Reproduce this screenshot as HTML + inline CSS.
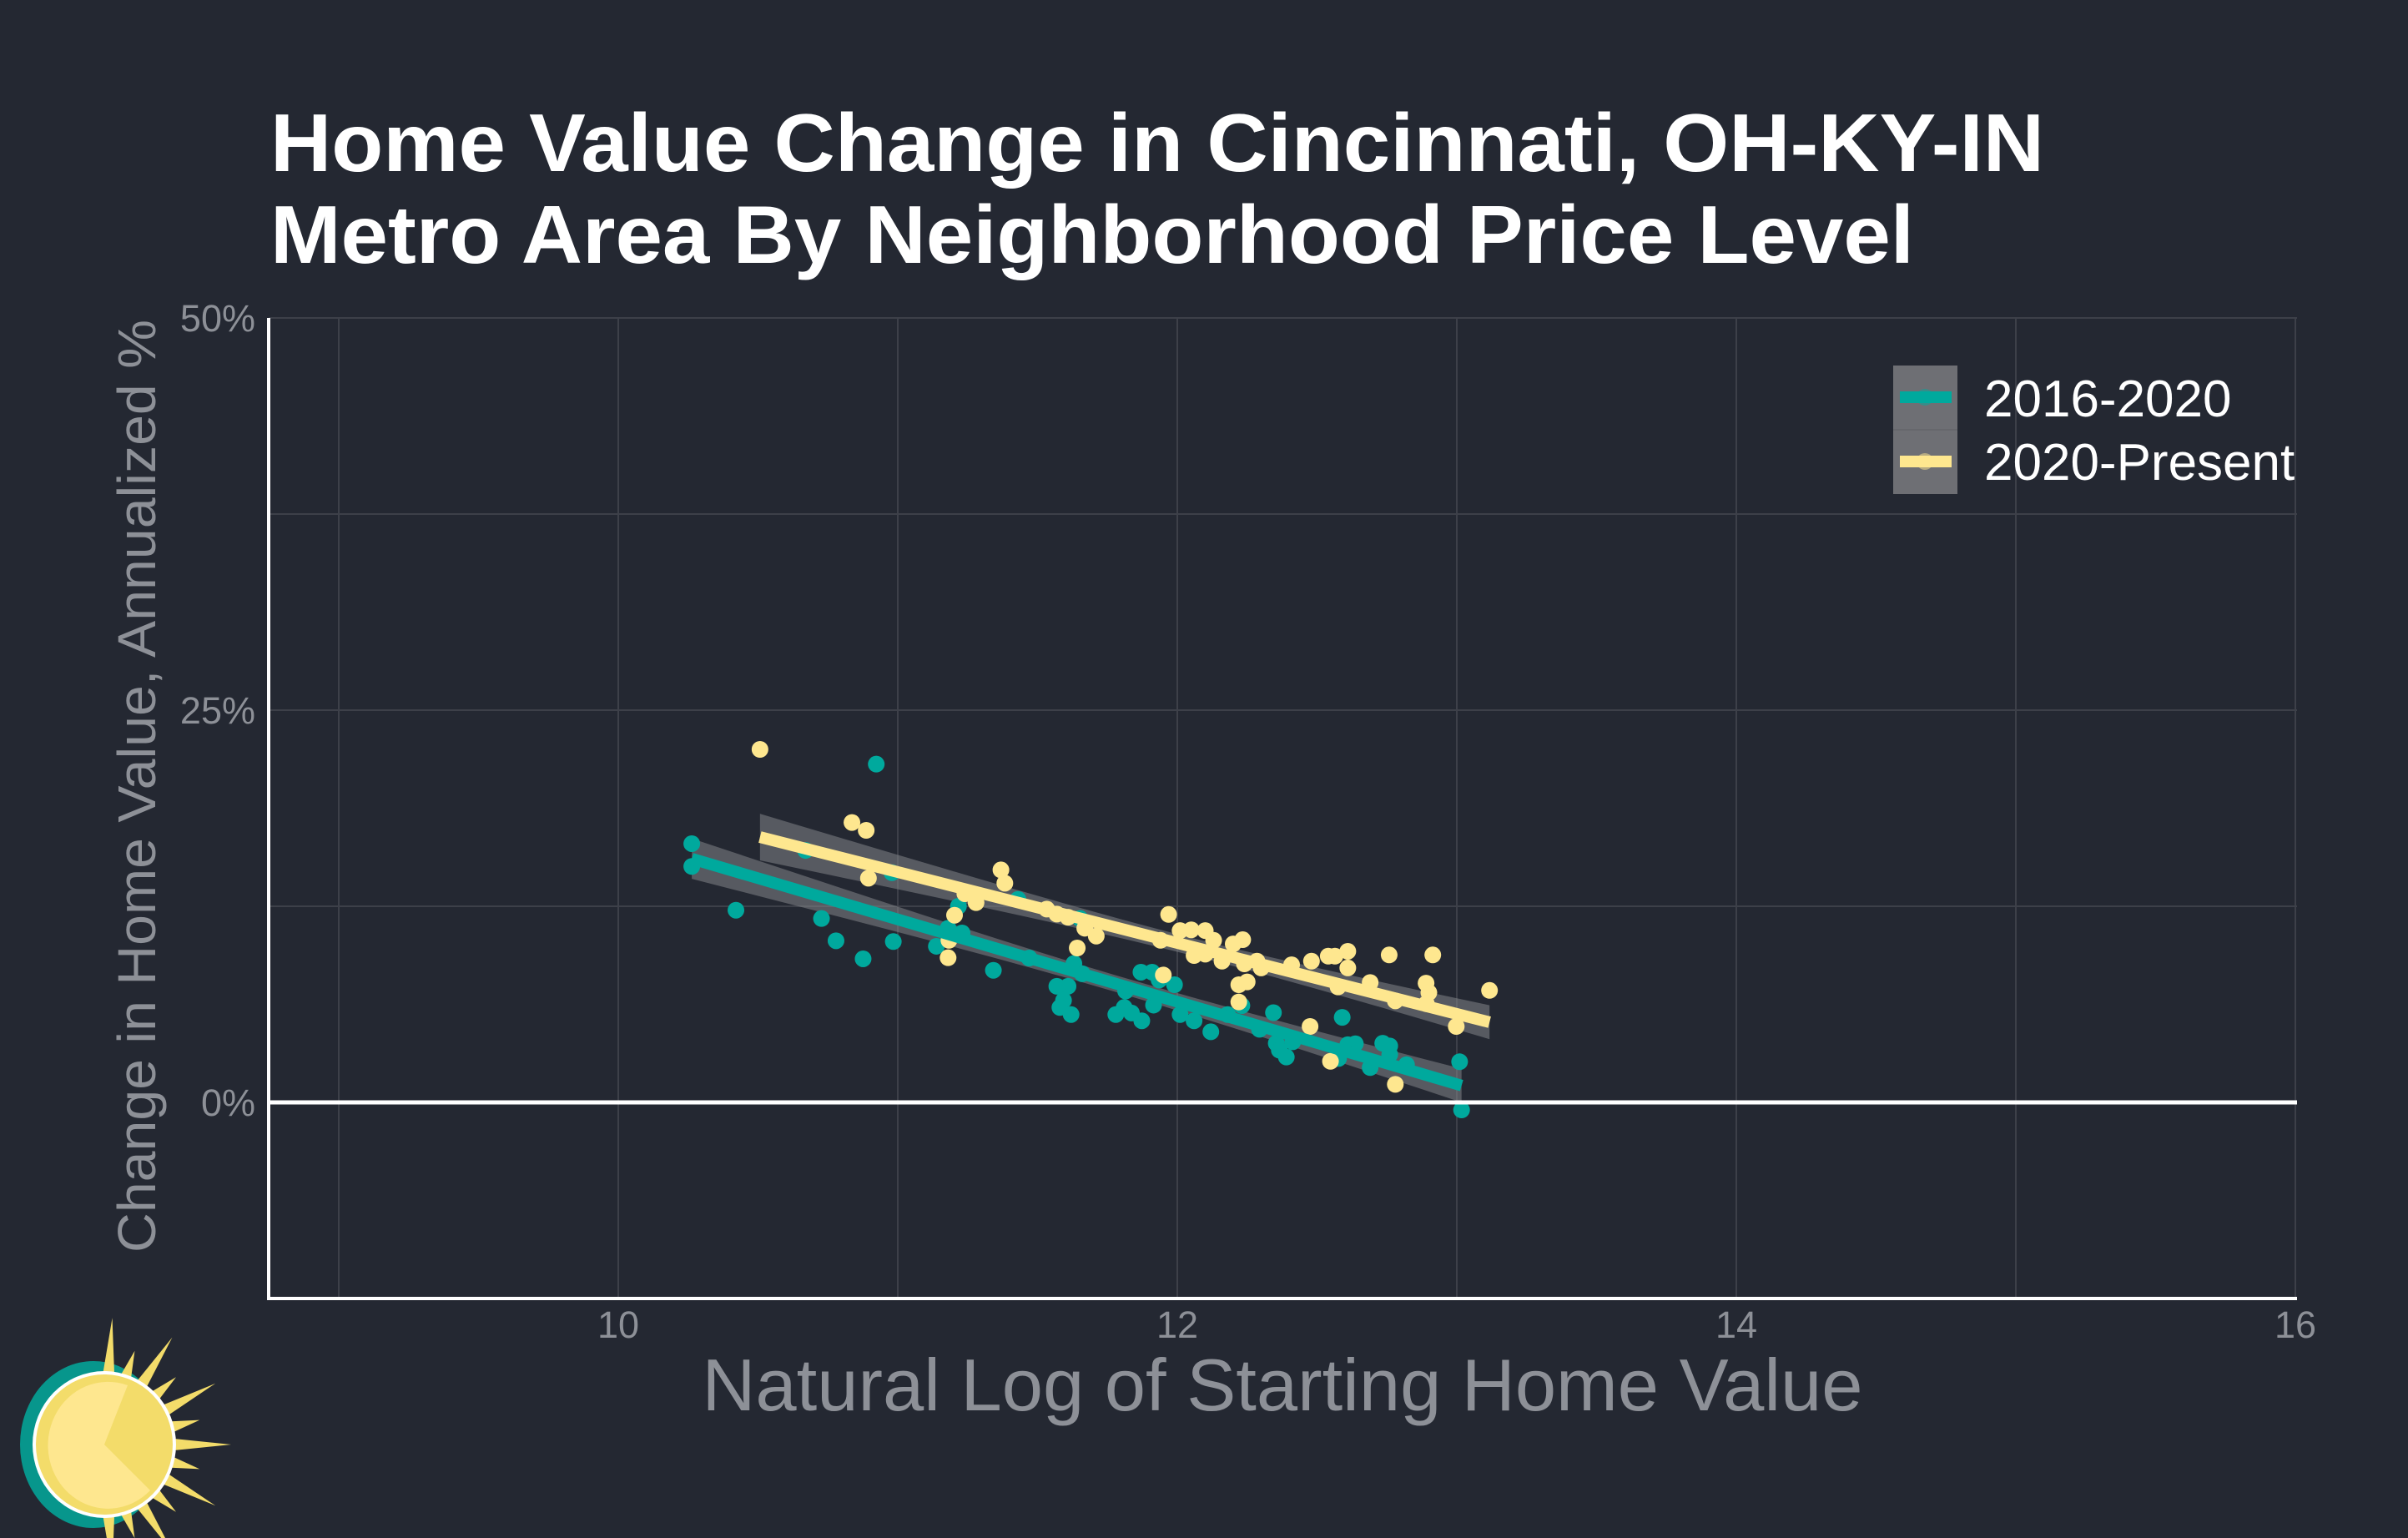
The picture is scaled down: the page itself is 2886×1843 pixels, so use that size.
<!DOCTYPE html>
<html><head><meta charset="utf-8"><style>
html,body{margin:0;padding:0;background:#242832;}
svg{display:block;font-family:"Liberation Sans",sans-serif;}
</style></head><body>
<svg id="chart" xmlns="http://www.w3.org/2000/svg" width="2886" height="1843" viewBox="0 0 2886 1843">
<rect width="2886" height="1843" fill="#242832"/>
<g fill="#ffffff" font-weight="bold" font-size="98">
<text x="324" y="205" textLength="2126" lengthAdjust="spacingAndGlyphs">Home Value Change in Cincinnati, OH-KY-IN</text>
<text x="324" y="315" textLength="1970" lengthAdjust="spacingAndGlyphs">Metro Area By Neighborhood Price Level</text>
</g>
<g id="grid"></g>
<g id="bands"></g>
<g id="points"></g>
<g id="lines"></g>
<g id="axes"></g>
<text x="186" y="942" transform="rotate(-90 186 942)" text-anchor="middle" font-size="64" fill="#8d9097" textLength="1118" lengthAdjust="spacingAndGlyphs">Change in Home Value, Annualized %</text>
<text x="1537" y="1690" text-anchor="middle" font-size="88" fill="#8d9097" textLength="1391" lengthAdjust="spacingAndGlyphs">Natural Log of Starting Home Value</text>
<g>
<rect x="2269" y="438" width="77" height="154" fill="#6e6f74"/>
<line x1="2269" y1="515" x2="2346" y2="515" stroke="#5e5f64" stroke-width="1"/>
<circle cx="2307" cy="476" r="10" fill="#00a99d" opacity="0.5"/>
<rect x="2277" y="469" width="62" height="14" fill="#00a99d"/>
<circle cx="2307" cy="553" r="10" fill="#fee78f" opacity="0.5"/>
<rect x="2277" y="546" width="62" height="14" fill="#fee78f"/>
<text x="2378" y="499" font-size="62" fill="#ffffff">2016-2020</text>
<text x="2378" y="575" font-size="62" fill="#ffffff">2020-Present</text>
</g>
<g id="sun">
<ellipse cx="112" cy="1731" rx="88" ry="100" fill="#07968c"/>
<g id="rays" fill="#f3dc6a"></g>
<ellipse cx="125" cy="1731" rx="86" ry="88" fill="#ffffff"/>
<ellipse cx="125" cy="1731" rx="82" ry="84" fill="#f3dc6a"/>
<path d="M125 1731 L153 1660 A72 76 0 1 0 180 1786 Z" fill="#fee78f"/>
</g>
</svg>
<script>
const xTicks = [10, 12, 14, 16];
const xGrid = [9, 10, 11, 12, 13, 14, 15, 16];
const yTicks = [0, 25, 50];
const yGrid = [-12.5, 0, 12.5, 25, 37.5, 50];
const tealX = [10.263,10.263,10.421,10.67,10.923,10.979,10.727,10.779,10.876,10.984,11.138,11.217,11.18,11.23,11.43,11.652,11.342,11.47,11.63,11.66,11.569,11.609,11.593,11.58,11.62,11.78,11.81,11.836,11.873,11.87,11.91,11.935,11.99,11.815,11.915,12.01,12.06,12.12,12.18,12.231,12.344,12.294,12.59,12.354,12.365,12.39,12.413,12.61,12.637,12.577,12.69,12.735,12.76,12.76,12.82,13.01,13.017];
const tealY = [16.49,15.04,12.25,16.06,21.56,14.64,11.72,10.3,9.15,10.25,9.95,12.5,11.1,10.8,12.94,11.72,8.42,9.2,8.85,8.2,7.4,7.4,6.5,6.05,5.6,5.6,6.05,5.7,5.2,8.3,8.3,7.8,7.5,7.1,6.2,5.6,5.2,4.5,5.6,6.17,5.72,4.66,5.42,3.77,3.33,2.89,3.86,3.68,3.74,2.8,2.22,3.77,3.6,3.05,2.4,2.59,-0.48];
const yellowX = [10.507,10.836,10.887,10.895,11.369,11.383,11.28,11.24,11.203,11.183,11.18,11.533,11.569,11.609,11.642,11.669,11.71,11.969,11.94,12.01,12.05,12.1,12.13,12.06,12.1,12.16,12.2,11.95,12.22,12.22,12.234,12.24,12.25,12.285,12.3,12.409,12.48,12.54,12.564,12.61,12.61,12.575,12.69,12.475,12.548,12.758,12.914,12.89,12.9,12.891,12.78,12.78,12.998,13.117];
const yellowY = [22.5,17.84,17.34,14.29,14.82,13.97,12.73,13.3,11.93,10.33,9.22,12.32,12.0,11.8,9.84,11.1,10.6,11.98,10.33,10.95,11.0,10.95,10.33,9.36,9.45,9.0,10.1,8.12,7.5,6.4,10.37,8.83,7.68,9.0,8.57,8.77,9.0,9.32,9.32,9.63,8.57,7.36,7.64,4.84,2.62,9.4,9.4,7.6,7.0,6.29,6.47,1.15,4.84,7.14];

const NS = "http://www.w3.org/2000/svg";
const L = 322, R = 2753, T = 381, B = 1556;
function xs(v){ return 741 + (v - 10) * 335; }
function ys(p){ return 1321 - p * 18.8; }
function mk(tag, attrs, parent){ const e = document.createElementNS(NS, tag); for (const k in attrs) e.setAttribute(k, attrs[k]); parent.appendChild(e); return e; }

const grid = document.getElementById('grid');
mk('rect', {x:L, y:T, width:R-L, height:B-T, fill:'#242832'}, grid);
xGrid.forEach(v => {
  const g = mk('line', {x1:xs(v), x2:xs(v), y1:T, y2:B, stroke:'#3d4049', 'stroke-width':2}, grid);
  
  
});
yGrid.forEach(p => {
  const g = mk('line', {x1:L, x2:R, y1:ys(p), y2:ys(p), stroke:'#3d4049', 'stroke-width':2}, grid);
  
  
});

const axes = document.getElementById('axes');
const zl = mk('line', {x1:L, x2:R, y1:ys(0), y2:ys(0), stroke:'#ffffff', 'stroke-width':5}, axes);


const ya = mk('line', {x1:L, x2:L, y1:T, y2:B+2, stroke:'#ffffff', 'stroke-width':4}, axes);


const xa = mk('line', {x1:L, x2:R, y1:B, y2:B, stroke:'#ffffff', 'stroke-width':4}, axes);


xTicks.forEach(v => {
  const t = mk('text', {x:xs(v), y:1603, 'text-anchor':'middle', 'font-size':45, fill:'#8d9097'}, axes);
  t.textContent = String(v);
  
  
});
yTicks.forEach(p => {
  const t = mk('text', {x:306, y:ys(p)+16, 'text-anchor':'end', 'font-size':45, fill:'#8d9097'}, axes);
  t.textContent = p + '%';
  
  
});

function fit(X, Y){
  const n = X.length;
  const mx = X.reduce((a,b)=>a+b,0)/n, my = Y.reduce((a,b)=>a+b,0)/n;
  let sxx=0, sxy=0;
  for (let i=0;i<n;i++){ sxx += (X[i]-mx)**2; sxy += (X[i]-mx)*(Y[i]-my); }
  const b = sxy/sxx, a = my - b*mx;
  let sse=0; for (let i=0;i<n;i++){ sse += (Y[i]-a-b*X[i])**2; }
  const s = Math.sqrt(sse/(n-2));
  return {a, b, n, mx, sxx, s, xmin:Math.min(...X), xmax:Math.max(...X)};
}
const bands = document.getElementById('bands');
const lines = document.getElementById('lines');
const points = document.getElementById('points');
function series(X, Y, color, name){
  const f = fit(X, Y);
  const se = v => 1.98 * f.s * Math.sqrt(1/f.n + (v-f.mx)**2/f.sxx);
  const yh = v => f.a + f.b*v;
  const x0 = f.xmin, x1 = f.xmax;
  let up = [], dn = [];
  for (let k=0;k<=20;k++){ const v = x0 + (x1-x0)*k/20; up.push(xs(v)+','+ys(yh(v)+se(v))); dn.unshift(xs(v)+','+ys(yh(v)-se(v))); }
  const band = mk('polygon', {points: up.concat(dn).join(' '), fill:'#8a8c90', opacity:0.5}, bands);
  
  
  X.forEach((v,i) => {
    const c = mk('circle', {cx:xs(v), cy:ys(Y[i]), r:10, fill:color}, points);
    
    
  });
  const ln = mk('line', {x1:xs(x0), y1:ys(yh(x0)), x2:xs(x1), y2:ys(yh(x1)), stroke:color, 'stroke-width':14}, lines);
  
  
}
series(tealX, tealY, '#00a99d', '2016-2020');
series(yellowX, yellowY, '#fee78f', '2020-present');

const rays = document.getElementById('rays');
const cx=125, cy=1731;
for (let k=-6;k<=6;k++){
  const ang = k*Math.PI/12.5;
  const len = (k%2===0) ? 152 : 118;
  const tip = [cx + Math.cos(ang)*len, cy + Math.sin(ang)*len];
  const w = 0.09;
  const p1 = [cx + Math.cos(ang-w)*80, cy + Math.sin(ang-w)*82];
  const p2 = [cx + Math.cos(ang+w)*80, cy + Math.sin(ang+w)*82];
  const r = mk('polygon', {points:`${p1} ${tip} ${p2}`}, rays);
  
  
}
</script>
</body></html>
